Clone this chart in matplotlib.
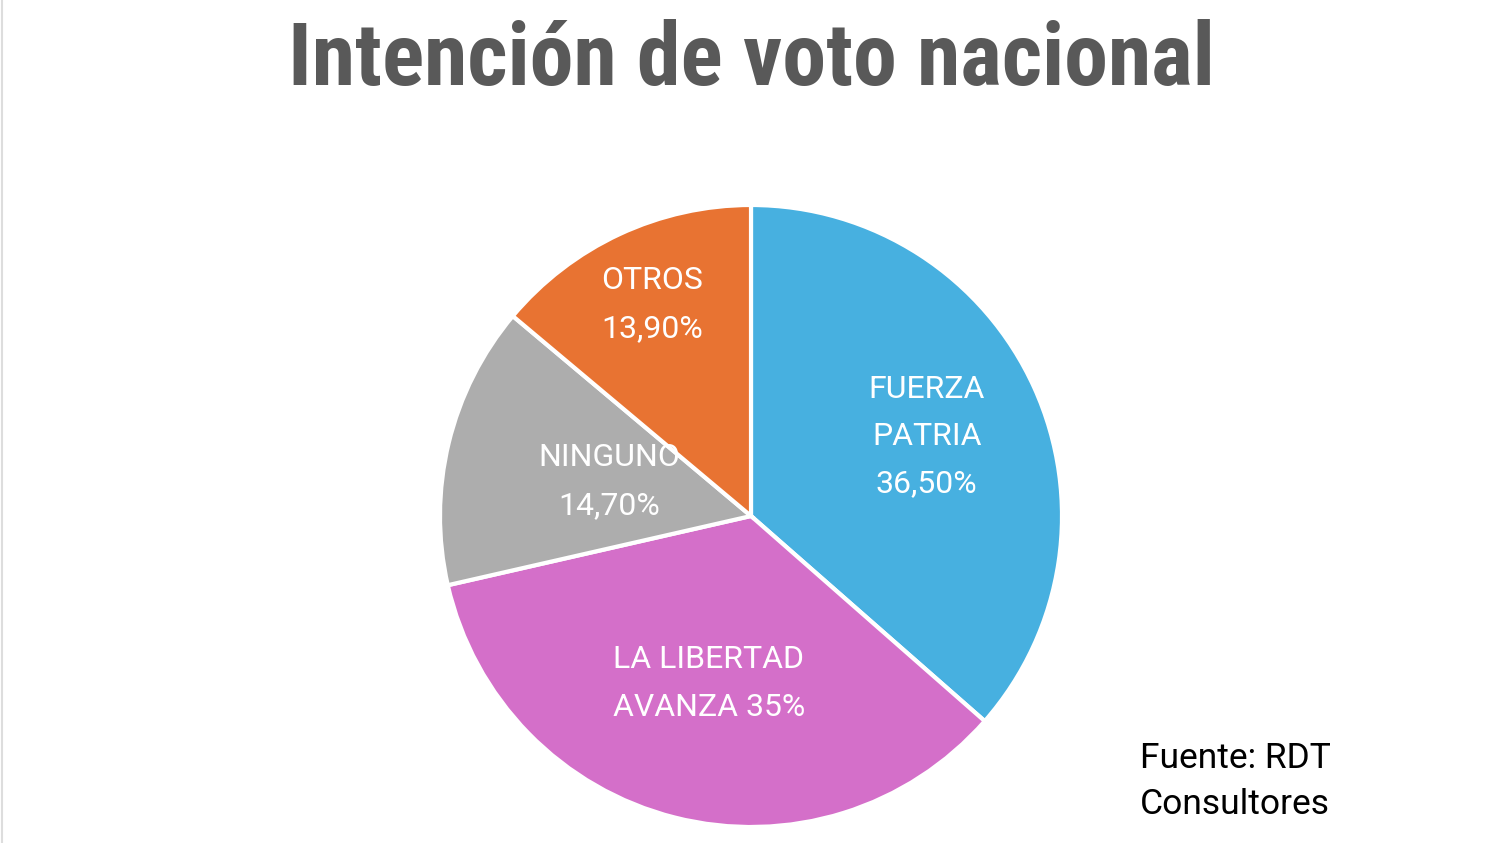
import numpy as np
import matplotlib.pyplot as plt
from matplotlib import font_manager
from matplotlib.lines import Line2D

partidos = ['FUERZA\nPATRIA', 'LA LIBERTAD\nAVANZA', 'NINGUNO', 'OTROS']
valores = [36.5, 35.0, 14.7, 13.9]
etiquetas_valor = ['36,50%', '35%', '14,70%', '13,90%']
colores = ['#47B0E0', '#D46FC9', '#ADADAD', '#E87332']

# distance of each label from the centre (fraction of the radius)
dist_etiqueta = [0.62, 0.555, 0.47, 0.75]

nombres = {f.name for f in font_manager.fontManager.ttflist}
candidatas = ['Liberation Sans Narrow', 'Roboto Condensed', 'Open Sans Condensed',
              'Noto Sans Condensed', 'DejaVu Sans Condensed', 'Arial Narrow', 'Roboto']
fuente_titulo = next(f for f in candidatas if f in nombres or f == 'Roboto')

fig = plt.figure(figsize=(15, 8.43), dpi=100)
fig.patch.set_facecolor('white')

cx, cy, r = 751, 516, 311
ax = fig.add_axes([(cx - r) / 1500, (843 - cy - r) / 843, 2 * r / 1500, 2 * r / 843])
wedges, _ = ax.pie(valores, colors=colores, startangle=90, counterclock=False,
                   radius=1, wedgeprops=dict(edgecolor='white', linewidth=3))
ax.set_xlim(-1, 1)
ax.set_ylim(-1, 1)
ax.set_aspect('equal')
ax.axis('off')

for w, nombre, val, d in zip(wedges, partidos, etiquetas_valor, dist_etiqueta):
    ang = np.deg2rad((w.theta1 + w.theta2) / 2)
    if nombre.startswith('LA'):
        texto = 'LA LIBERTAD\nAVANZA ' + val
    else:
        texto = nombre + '\n' + val
    ax.text(d * np.cos(ang), d * np.sin(ang), texto, ha='center', va='center',
            color='white', fontsize=23, family='Roboto', linespacing=1.8)

titulo = fig.text(0.5007, (843 - 85) / 843, 'Intención de voto nacional',
                  ha='center', va='baseline', fontsize=60, fontweight='bold',
                  fontstretch='condensed', color='#595959', family=fuente_titulo)
# fit the title to the width of the original (~928 px)
fig.canvas.draw()
ancho = titulo.get_window_extent().width
titulo.set_fontsize(60 * 928 / ancho)

fig.text(0.76, 0.073, 'Fuente: RDT\nConsultores', ha='left', va='center',
         fontsize=25.5, family='Roboto', color='black', linespacing=1.5)

# faint frame line on the left edge
fig.add_artist(Line2D([0.0015, 0.0015], [0, 1], transform=fig.transFigure,
                      color='#DDDDDD', linewidth=1.5))

fig.savefig('out.png', dpi=100, facecolor='white')
